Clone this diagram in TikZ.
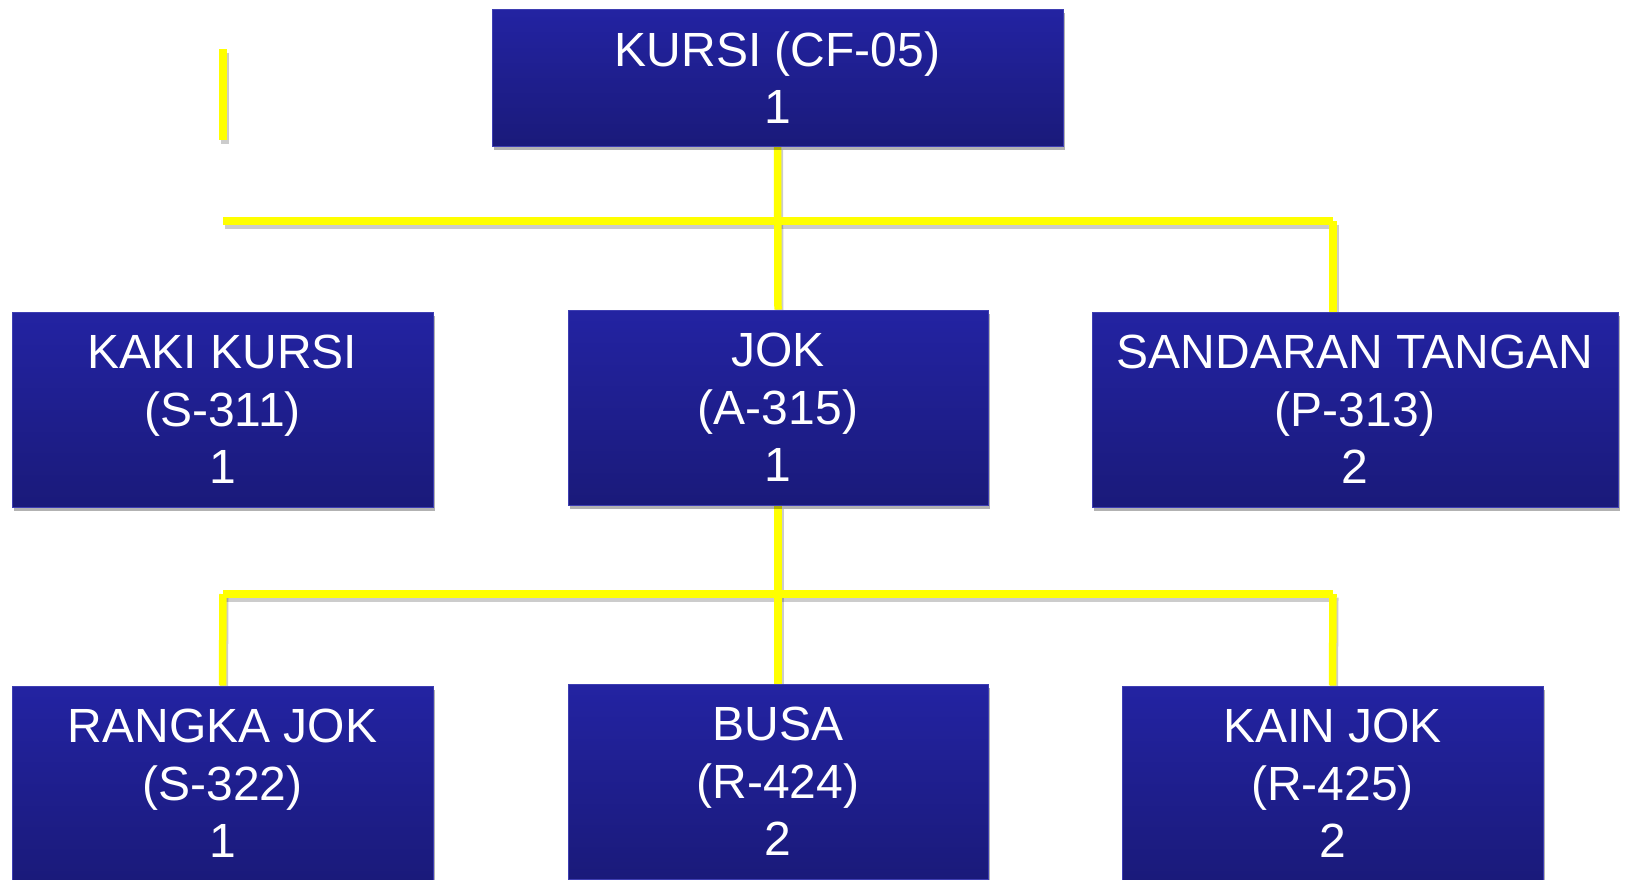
\documentclass[tikz,border=0pt]{standalone}
\usepackage{fontspec}
\setmainfont{Liberation Sans}
\usetikzlibrary{shadows}
\definecolor{boxtop}{RGB}{35,35,162}
\definecolor{boxbot}{RGB}{26,26,122}
\definecolor{boxedge}{RGB}{62,62,178}
\definecolor{linkyellow}{RGB}{255,255,0}
\pgfdeclarelayer{background}
\pgfsetlayers{background,main}
\tikzset{
  part/.style={rectangle, draw=boxedge, line width=1pt, top color=boxtop, bottom color=boxbot,
    text=white, align=center, font=\fontsize{48}{57.5}\selectfont, inner sep=0pt,
    drop shadow={shadow xshift=2pt, shadow yshift=-4pt, opacity=0.3, fill=black}},
  link/.style={draw=linkyellow, line width=7.5pt},
  linkshadow/.style={draw=black, opacity=0.2, line width=8pt, transform canvas={xshift=1.5pt,yshift=-3.5pt}},
}
\begin{document}
\begin{tikzpicture}[x=1pt,y=-1pt]
\useasboundingbox (0,0) rectangle (1625,879);

\node[part, minimum width=571pt, minimum height=137pt] (kursi) at (777.5,77.5) {KURSI (CF-05)\\1};
\node[part, minimum width=421pt, minimum height=195pt] (kaki) at (222.5,409.5) {KAKI KURSI\\(S-311)\\1};
\node[part, minimum width=420pt, minimum height=195pt] (jok) at (778,407.5) {JOK\\(A-315)\\1};
\node[part, minimum width=526pt, minimum height=195pt] (sandaran) at (1355,409.5) {SANDARAN TANGAN\\(P-313)\\2};
\node[part, minimum width=421pt, minimum height=195pt] (rangka) at (222.5,783.5) {RANGKA JOK\\(S-322)\\1};
\node[part, minimum width=420pt, minimum height=195pt] (busa) at (778,781.5) {BUSA\\(R-424)\\2};
\node[part, minimum width=421pt, minimum height=195pt] (kain) at (1332.5,783.5) {KAIN JOK\\(R-425)\\2};

\coordinate (s1) at (223,49);
\coordinate (s2) at (223,140);
\coordinate (h1l) at (223,221);
\coordinate (h1r) at (1333,221);
\coordinate (h2l) at (223,594);
\coordinate (h2r) at (1333,594);

\begin{pgfonlayer}{background}
\foreach \sty in {linkshadow,link}{
  \draw[\sty] (s1) -- (s2);
  \draw[\sty] (kursi.south) -- (jok.north);
  \draw[\sty] (h1l) -- (h1r);
  \draw[\sty] (h1r) -- (h1r |- sandaran.north);
  \draw[\sty] (jok.south) -- (busa.north);
  \draw[\sty] (h2l) -- (h2r);
  \draw[\sty] (h2l) -- (rangka.north);
  \draw[\sty] (h2r) -- (kain.north);
}
\end{pgfonlayer}
\end{tikzpicture}
\end{document}
